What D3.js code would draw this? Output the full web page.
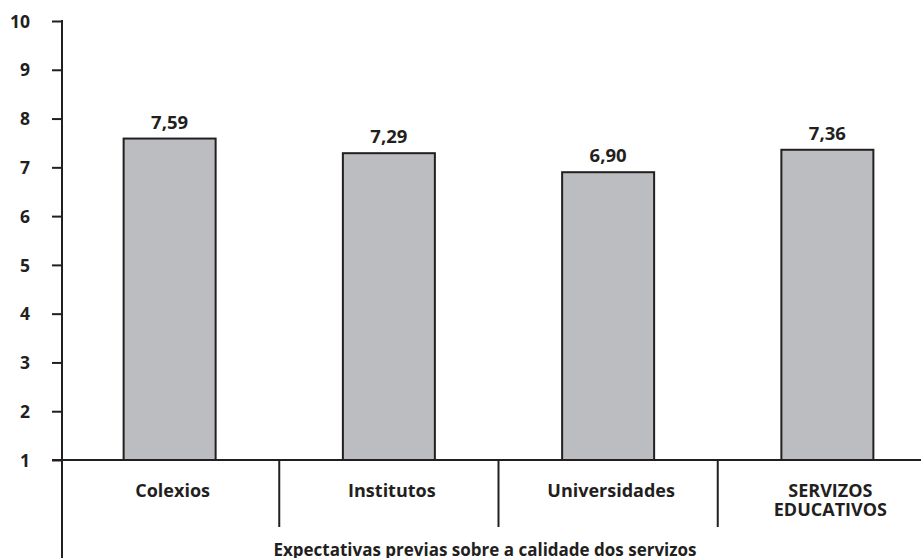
<!DOCTYPE html>
<html>
<head>
<meta charset="utf-8">
<script src="https://cdn.jsdelivr.net/npm/d3@7"></script>
<style>
  html, body { margin: 0; padding: 0; background: #fff; }
  svg { display: block; }
  text { font-family: "Open Sans", "Noto Sans", sans-serif; font-weight: 700; fill: #231f20; }
</style>
</head>
<body>
<svg id="chart" width="921" height="558"></svg>
<script>
// Service categories (second entry on two lines)
const categories = ["Colexios", "Institutos", "Universidades", "SERVIZOS\nEDUCATIVOS"];
// Average prior expectation score per category
const values = [7.59, 7.29, 6.90, 7.36];
// Value labels written with a decimal comma
const valueLabels = ["7,59", "7,29", "6,90", "7,36"];
// Y axis ticks
const yTicks = [1, 2, 3, 4, 5, 6, 7, 8, 9, 10];
const axisTitle = "Expectativas previas sobre a calidade dos servizos";

const ink = "#231f20";
const barFill = "#bcbdc1";

const svg = d3.select("#chart");

const axisX = 62;
const y = d3.scaleLinear().domain([1, 10]).range([460, 21]);
const x = d3.scaleBand().domain(categories).range([60, 937]).paddingInner(0).paddingOuter(0);
const barW = 92;

// Bars
svg.append("g").selectAll("rect")
  .data(categories)
  .join("rect")
  .attr("x", (d) => x(d) + x.bandwidth() / 2 - barW / 2)
  .attr("y", (d, i) => y(values[i]))
  .attr("width", barW)
  .attr("height", (d, i) => y(1) - y(values[i]))
  .attr("fill", barFill)
  .attr("stroke", ink)
  .attr("stroke-width", 2);

// Value labels above bars
svg.append("g").selectAll("text")
  .data(categories)
  .join("text")
  .attr("x", (d) => x(d) + x.bandwidth() / 2)
  .attr("y", (d, i) => y(values[i]) - 10)
  .attr("text-anchor", "middle")
  .attr("font-size", 18.5)
  .text((d, i) => valueLabels[i]);

// Y axis
const yAxis = d3.axisLeft(y).tickValues(yTicks).tickSize(10).tickPadding(22).tickFormat(d3.format("d"));
const gy = svg.append("g").attr("transform", `translate(${axisX},0)`).call(yAxis);
gy.select(".domain").remove();
gy.selectAll(".tick line").attr("stroke", ink).attr("stroke-width", 2);
gy.selectAll(".tick text")
  .attr("font-size", 17.5)
  .attr("font-family", '"Open Sans", sans-serif')
  .attr("font-weight", 700)
  .attr("fill", ink)
  .attr("dy", "0.35em");

// Vertical axis line running down past the baseline
svg.append("line")
  .attr("x1", axisX).attr("x2", axisX)
  .attr("y1", y(10) - 1).attr("y2", 558)
  .attr("stroke", ink).attr("stroke-width", 2);

// Baseline
svg.append("line")
  .attr("x1", axisX - 10).attr("x2", 921)
  .attr("y1", y(1)).attr("y2", y(1))
  .attr("stroke", ink).attr("stroke-width", 2);

// Category dividers
svg.append("g").selectAll("line")
  .data(categories.slice(1))
  .join("line")
  .attr("x1", (d) => x(d)).attr("x2", (d) => x(d))
  .attr("y1", y(1)).attr("y2", 527)
  .attr("stroke", ink).attr("stroke-width", 2);

// Category labels
const catLabels = svg.append("g").selectAll("text")
  .data(categories)
  .join("text")
  .attr("x", (d) => x(d) + x.bandwidth() / 2 + 3)
  .attr("y", 497)
  .attr("text-anchor", "middle")
  .attr("font-size", 18);
catLabels.each(function (d) {
  const lines = d.split("\n");
  const t = d3.select(this);
  lines.forEach((ln, j) => {
    t.append("tspan")
      .attr("x", x(d) + x.bandwidth() / 2 + 3)
      .attr("dy", j === 0 ? 0 : 19)
      .text(ln);
  });
});

// Axis title
svg.append("text")
  .attr("x", 485)
  .attr("y", 556)
  .attr("text-anchor", "middle")
  .attr("font-size", 17)
  .text(axisTitle);
</script>
</body>
</html>
